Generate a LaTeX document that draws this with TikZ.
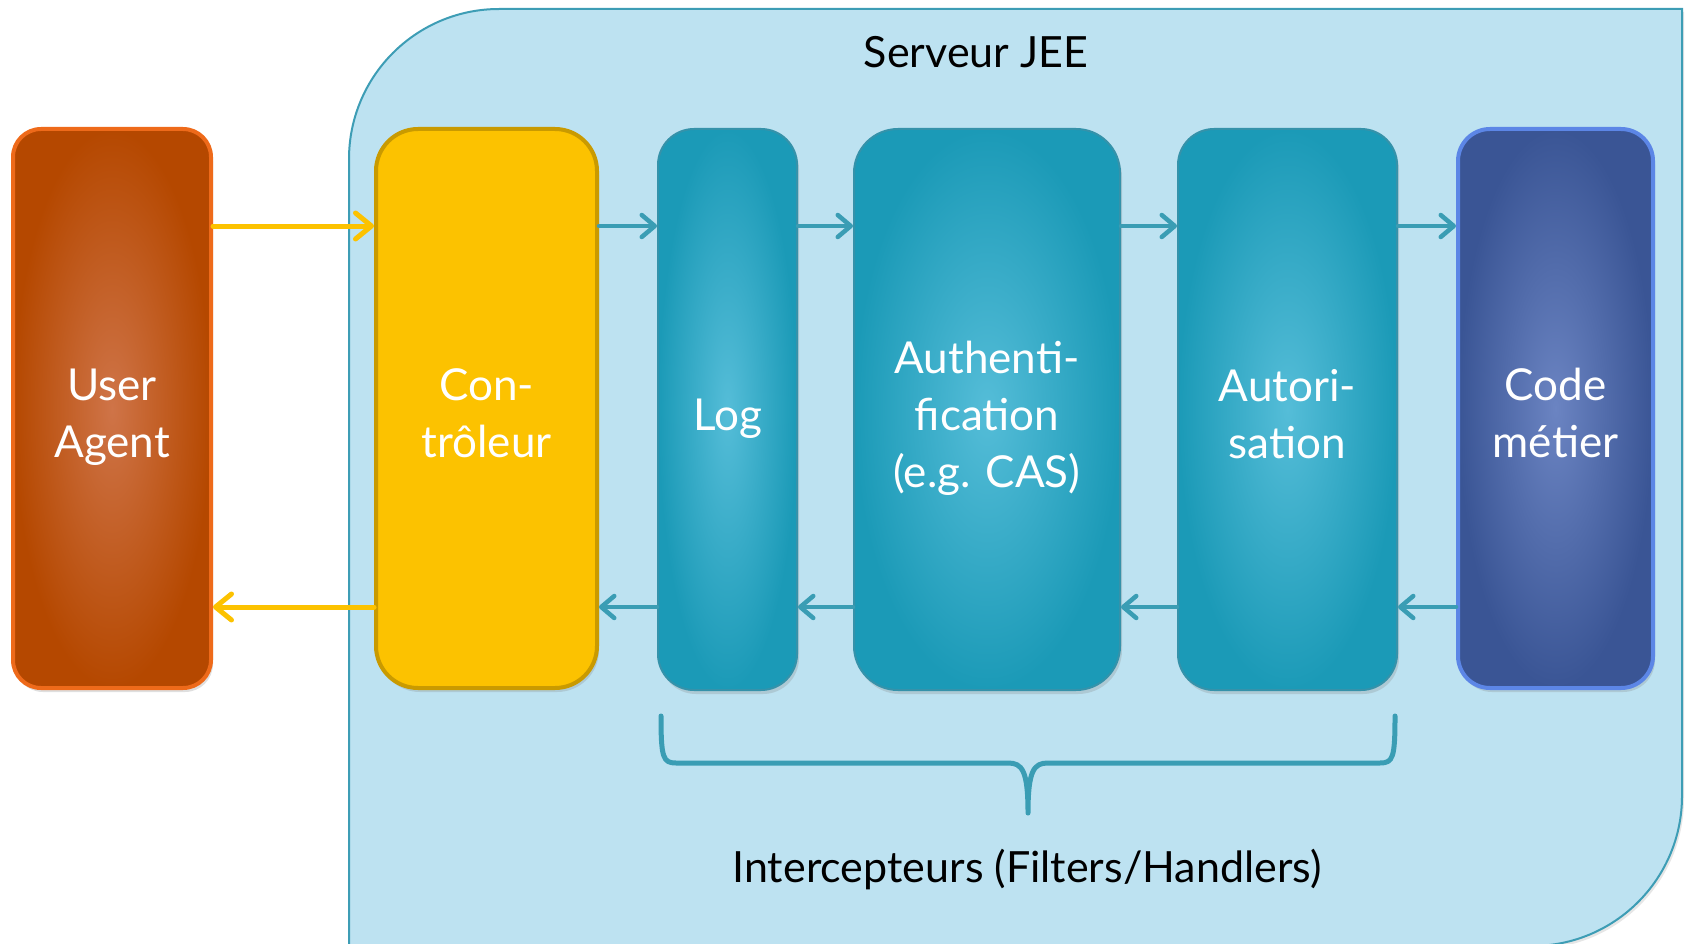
\documentclass[tikz,border=0pt]{standalone}
\usepackage{fontspec}
\setmainfont{Lato}
\usetikzlibrary{arrows.meta,shadows}
\definecolor{servfill}{HTML}{BDE2F1}
\definecolor{servline}{HTML}{3D9DB5}
\definecolor{uain}{HTML}{CF7448}
\definecolor{uaout}{HTML}{B54800}
\definecolor{ualine}{HTML}{EE6A1A}
\definecolor{ctlfill}{HTML}{FCC200}
\definecolor{ctlline}{HTML}{C99A00}
\definecolor{tealin}{HTML}{55BDD8}
\definecolor{tealout}{HTML}{1B9AB7}
\definecolor{tealline}{HTML}{3592AA}
\definecolor{codein}{HTML}{6B84C2}
\definecolor{codeout}{HTML}{3A5595}
\definecolor{codeline}{HTML}{5C86E6}
\definecolor{arrteal}{HTML}{3A9DB4}
\definecolor{arryel}{HTML}{FCC200}
\tikzset{
  lbl/.style={align=center, text=white, inner sep=0pt, yshift=-9pt,
    font=\fontsize{44}{57}\selectfont},
  lblb/.style={lbl, yshift=4.5pt},
  blk/.style={draw, inner sep=0pt,
    drop shadow={opacity=0.25, shadow xshift=2pt, shadow yshift=-4pt}},
  uabox/.style={blk, rounded corners=28pt, line width=4pt, draw=ualine,
    inner color=uain, outer color=uaout, minimum width=198pt, minimum height=559pt},
  ctlbox/.style={blk, rounded corners=42pt, line width=4pt, draw=ctlline,
    fill=ctlfill, minimum width=221pt, minimum height=559pt},
  tealbox/.style={blk, rounded corners=36pt, line width=2pt, draw=tealline,
    inner color=tealin, outer color=tealout, minimum height=561pt},
  codebox/.style={blk, rounded corners=32pt, line width=4pt, draw=codeline,
    inner color=codein, outer color=codeout, minimum width=195pt, minimum height=559pt},
  yarr/.style={draw=arryel, line width=5pt, line cap=round,
    -{Straight Barb[length=16pt,width=26pt,round]}},
  tarr/.style={draw=arrteal, line width=4.5pt, line cap=round,
    -{Straight Barb[length=13pt,width=22pt,round]}},
  brace/.style={draw=arrteal, line width=5pt, line cap=round, line join=round},
  title/.style={text=black, font=\fontsize{43}{50}\selectfont}
}
\begin{document}
\begin{tikzpicture}[x=1pt,y=-1pt]
\useasboundingbox (0,0) rectangle (1685,944);
% server
\path[fill=servfill, draw=servline, line width=2pt,
      drop shadow={opacity=0.2, shadow xshift=2pt, shadow yshift=-3pt}]
  (349,990) -- (349,159) .. controls (349,76.2) and (416.2,9) .. (499,9)
  -- (1682,9) -- (1682,796) .. controls (1682,878.8) and (1614.8,946) .. (1532,946)
  -- (1532,990) -- cycle;
\node[title] (srv) at (976,52) {Serveur JEE};

\node[uabox, label={[lbl]center:User\\Agent}] (ua) at (112,408.5) {};
\node[ctlbox, label={[lblb]center:Con-\\trôleur}] (ctl) at (486.5,408.5) {};
\node[tealbox, minimum width=139pt, label={[lbl]center:Log}] (log) at (727.5,409.5) {};
\node[tealbox, minimum width=266pt, rounded corners=44pt,
      label={[lbl]center:Authenti-\\fication\\(e.g. CAS)}] (auth) at (987,409.5) {};
\node[tealbox, minimum width=219pt, label={[lblb]center:Autori-\\sation}] (autor) at (1287.5,409.5) {};
\node[codebox, label={[lblb]center:Code\\métier}] (code) at (1555.5,408.5) {};

\coordinate (yT) at (0,226);
\coordinate (yB) at (0,607);

\draw[yarr] (ua.east |- yT) -- (ctl.west |- yT);
\draw[yarr] (ctl.west |- yB) -- (ua.east |- yB);
\draw[tarr] (ctl.east |- yT) -- (log.west |- yT);
\draw[tarr] (log.east |- yT) -- (auth.west |- yT);
\draw[tarr] (auth.east |- yT) -- (autor.west |- yT);
\draw[tarr] (autor.east |- yT) -- (code.west |- yT);
\draw[tarr] (code.west |- yB) -- (autor.east |- yB);
\draw[tarr] (autor.west |- yB) -- (auth.east |- yB);
\draw[tarr] (auth.west |- yB) -- (log.east |- yB);
\draw[tarr] (log.west |- yB) -- (ctl.east |- yB);

% brace
\path[brace]
  (661,716) .. controls (661,758) and (663,763) .. (676,763) -- (1008,763)
  .. controls (1022,763) and (1028,770) .. (1028,813)
  .. controls (1028,770) and (1034,763) .. (1048,763) -- (1380,763)
  .. controls (1393,763) and (1395,758) .. (1395,716);
\node[title] (icp) at (1027,870) {Intercepteurs (Filters/Handlers)};
\end{tikzpicture}
\end{document}
